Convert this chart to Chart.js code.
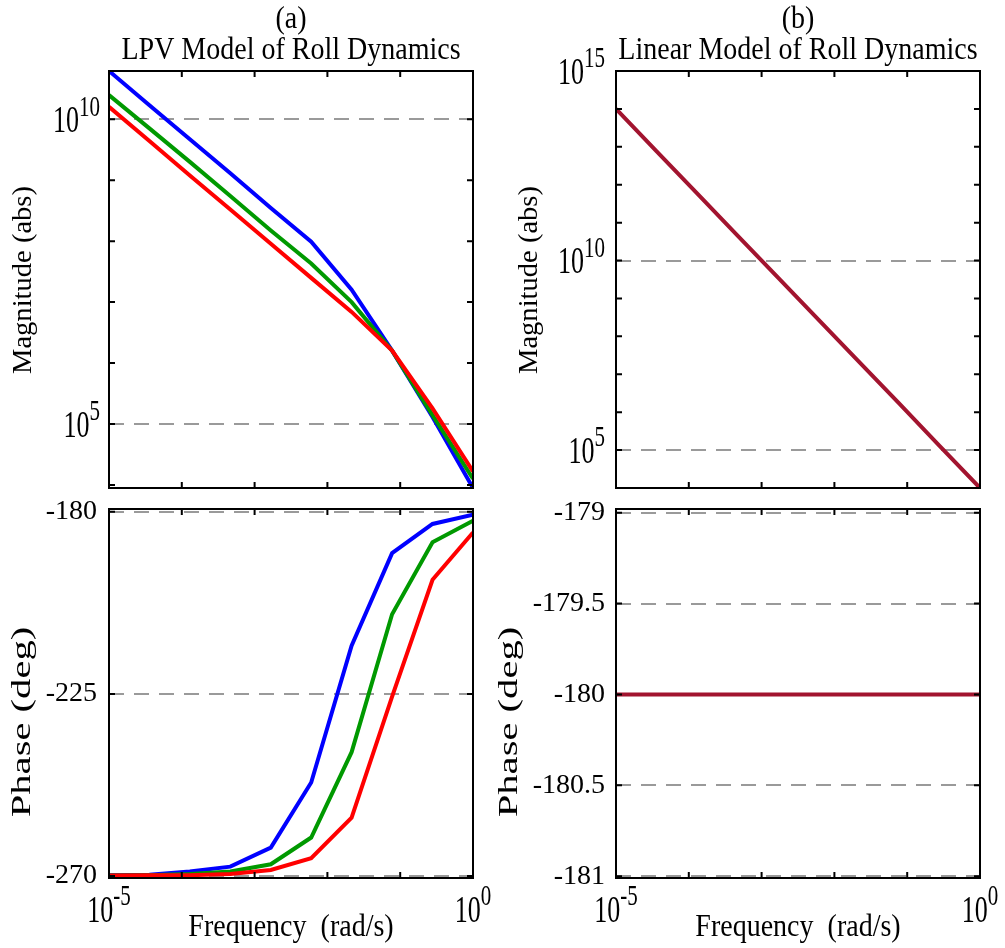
<!DOCTYPE html>
<html>
<head>
<meta charset="utf-8">
<script src="https://cdn.jsdelivr.net/npm/chart.js@4.4.1/dist/chart.umd.min.js"></script>
<style>
  body { margin: 0; background: #fff; }
  #wrap { position: relative; width: 1005px; height: 948px; }
  canvas { position: absolute; }
</style>
</head>
<body>
<div id="wrap">
  <canvas id="magA" width="500" height="490" style="left:0;top:0"></canvas>
  <canvas id="phaseA" width="500" height="458" style="left:0;top:490px"></canvas>
  <canvas id="magB" width="515" height="490" style="left:490px;top:0"></canvas>
  <canvas id="phaseB" width="515" height="458" style="left:490px;top:490px"></canvas>
</div>
<script>
// frequency grid (rad/s)
const freq = [1.0e-5, 3.59e-5, 1.29e-4, 4.64e-4, 1.67e-3, 5.99e-3, 2.15e-2, 7.74e-2, 2.78e-1, 1.0];

// (a) LPV model, three operating points
const magBlue  = [6.2e10, 1.7e10, 4.7e9, 1.3e9, 3.5e8, 9.8e7, 1.6e7, 1.6e6, 1.3e5, 8.9e3];
const magGreen = [2.5e10, 7.1e9, 2.0e9, 5.5e8, 1.5e8, 4.3e7, 1.0e7, 1.6e6, 1.4e5, 1.26e4];
const magRed   = [1.6e10, 4.4e9, 1.2e9, 3.3e8, 9.1e7, 2.5e7, 6.9e6, 1.6e6, 1.8e5, 1.66e4];
const phaseBlue  = [-269.8, -269.7, -268.9, -267.7, -263.0, -246.9, -213.1, -190.2, -183.0, -180.7];
const phaseGreen = [-269.9, -269.8, -269.5, -268.9, -267.1, -260.5, -239.4, -205.3, -187.5, -182.2];
const phaseRed   = [-269.9, -269.8, -269.8, -269.5, -268.5, -265.6, -255.6, -225.7, -196.8, -185.1];

// (b) linear model
const magLinear   = [1.0e14, 7.7e12, 6.0e11, 4.6e10, 3.6e9, 2.8e8, 2.2e7, 1.7e6, 1.3e5, 1.0e4];
const phaseLinear = [-180, -180, -180, -180, -180, -180, -180, -180, -180, -180];

// ticks
const freqTicks = [1e-5, 1e-4, 1e-3, 1e-2, 1e-1, 1];
const freqLabelled = [1e-5, 1];
const magTicksA = [1e4, 1e5, 1e6, 1e7, 1e8, 1e9, 1e10];
const magLabelledA = [1e5, 1e10];
const magTicksB = [1e5, 1e6, 1e7, 1e8, 1e9, 1e10, 1e11, 1e12, 1e13, 1e14, 1e15];
const magLabelledB = [1e5, 1e10, 1e15];
const phaseTicksA = [-270, -225, -180];
const phaseTicksB = [-181, -180.5, -180, -179.5, -179];

const FAMILY = '"Liberation Serif", "Times New Roman", serif';
Chart.defaults.font.family = FAMILY;
Chart.defaults.font.size = 28;
Chart.defaults.color = '#000';
const font = { family: FAMILY, size: 28 };

function isIn(list, v) {
  return list.some(x => Math.abs(x - v) <= Math.abs(x) * 1e-6);
}

// text squeezed/stretched like the original export
function stretchText(ctx, text, x, y, size, sx, sy, align, rot) {
  ctx.save();
  ctx.translate(x, y);
  if (rot) ctx.rotate(rot);
  ctx.scale(sx, sy);
  ctx.font = size + 'px ' + FAMILY;
  ctx.textAlign = align;
  ctx.textBaseline = 'middle';
  ctx.fillText(text, 0, 0);
  ctx.restore();
}

// 10^n label, y = middle of the base digits
function drawPow(ctx, v, x, y, align) {
  const exp = String(Math.round(Math.log10(v)));
  const sy = 1.45;
  ctx.save();
  ctx.font = '26px ' + FAMILY;
  const wb = ctx.measureText('10').width;
  ctx.font = '21px ' + FAMILY;
  const we = ctx.measureText(exp).width;
  const total = wb + we;
  const x0 = align === 'right' ? x - total : x - total / 2;
  ctx.textAlign = 'left';
  ctx.textBaseline = 'alphabetic';
  ctx.translate(0, y);
  ctx.scale(1, sy);
  ctx.font = '26px ' + FAMILY;
  ctx.fillText('10', x0, 8.8);
  ctx.font = '21px ' + FAMILY;
  ctx.fillText(exp, x0 + wb, -2.5);
  ctx.restore();
}

// box, inward tick marks, headings and axis texts
const framePlugin = {
  id: 'frame',
  afterDraw(chart, args, opts) {
    const { ctx, chartArea: a, scales } = chart;
    ctx.save();
    ctx.strokeStyle = '#000';
    ctx.lineWidth = 2;
    ctx.beginPath();
    scales.x.ticks.forEach(t => {
      const px = scales.x.getPixelForValue(t.value);
      ctx.moveTo(px, a.top); ctx.lineTo(px, a.top + 6);
      ctx.moveTo(px, a.bottom); ctx.lineTo(px, a.bottom - 6);
    });
    scales.y.ticks.forEach(t => {
      const py = scales.y.getPixelForValue(t.value);
      ctx.moveTo(a.left, py); ctx.lineTo(a.left + 6, py);
      ctx.moveTo(a.right, py); ctx.lineTo(a.right - 6, py);
    });
    ctx.stroke();
    ctx.strokeRect(a.left, a.top, a.right - a.left, a.bottom - a.top);

    ctx.fillStyle = '#000';
    const cx = (a.left + a.right) / 2;
    if (opts.heading) {
      stretchText(ctx, opts.tag, cx, 20, 28, 1, 1.15, 'center');
      stretchText(ctx, opts.heading, cx, 51, 28, 1, 1.15, 'center');
    }
    // y axis title
    stretchText(ctx, opts.yTitle, opts.yTitleX, opts.yTitleY, 28, opts.yStretch, 1, 'center', -Math.PI / 2);
    // log labels on y
    if (opts.powY) {
      opts.powY.forEach(v => drawPow(ctx, v, a.left - opts.labelPad, scales.y.getPixelForValue(v), 'right'));
    }
    // frequency axis
    if (opts.freqAxis) {
      freqLabelled.forEach(v => drawPow(ctx, v, scales.x.getPixelForValue(v), a.bottom + 31, 'center'));
      stretchText(ctx, 'Frequency  (rad/s)', cx, a.bottom + 50, 28, 1, 1.15, 'center');
    }
    ctx.restore();
  }
};

function lineSet(values, color) {
  return {
    data: freq.map((f, i) => ({ x: f, y: values[i] })),
    borderColor: color,
    borderWidth: 4,
    pointRadius: 0,
    tension: 0,
    fill: false
  };
}

function makeChart(id, cfg) {
  return new Chart(document.getElementById(id), {
    type: 'line',
    data: { datasets: cfg.datasets },
    plugins: [framePlugin],
    options: {
      responsive: false,
      animation: false,
      devicePixelRatio: 1,
      layout: { padding: cfg.padding },
      plugins: {
        legend: { display: false },
        tooltip: { enabled: false },
        frame: cfg.frame
      },
      scales: {
        x: {
          type: 'logarithmic',
          min: 1e-5,
          max: 1,
          afterBuildTicks: s => { s.ticks = freqTicks.map(v => ({ value: v })); },
          ticks: { display: false },
          grid: { display: false, drawTicks: false },
          border: { display: false },
          afterFit: s => {
            s.height = cfg.xHeight;
            s.paddingLeft = 0; s.paddingRight = 0;
          }
        },
        y: {
          type: cfg.yType,
          min: cfg.yMin,
          max: cfg.yMax,
          afterBuildTicks: s => { s.ticks = cfg.yTicks.map(v => ({ value: v })); },
          ticks: {
            display: cfg.yType === 'linear',
            autoSkip: false,
            padding: cfg.frame.labelPad,
            font: font,
            callback: v => (isIn(cfg.yLabelled, v) ? String(v) : '')
          },
          grid: {
            drawTicks: false,
            lineWidth: 2,
            color: c => (c.tick && isIn(cfg.yLabelled, c.tick.value) ? '#9a9a9a' : 'rgba(0,0,0,0)')
          },
          border: { display: false, dash: [15, 10] },
          afterFit: s => {
            s.width = cfg.yWidth;
            s.paddingTop = 0; s.paddingBottom = 0;
          }
        }
      }
    }
  });
}

makeChart('magA', {
  datasets: [lineSet(magRed, '#ff0000'), lineSet(magGreen, '#009900'), lineSet(magBlue, '#0000ff')],
  padding: { left: 0, right: 27, top: 71, bottom: 2 },
  xHeight: 0,
  yType: 'logarithmic', yMin: 8.9e3, yMax: 6.2e10,
  yTicks: magTicksA, yLabelled: magLabelledA, yWidth: 109,
  frame: { tag: '(a)', heading: 'LPV Model of Roll Dynamics', yTitle: 'Magnitude (abs)',
           yTitleX: 24, yTitleY: 280, yStretch: 1.02, powY: magLabelledA, labelPad: 9 }
});

makeChart('phaseA', {
  datasets: [lineSet(phaseRed, '#ff0000'), lineSet(phaseGreen, '#009900'), lineSet(phaseBlue, '#0000ff')],
  padding: { left: 0, right: 27, top: 19, bottom: 0 },
  xHeight: 70,
  yType: 'linear', yMin: -270.5, yMax: -179.3,
  yTicks: phaseTicksA, yLabelled: phaseTicksA, yWidth: 109,
  frame: { yTitle: 'Phase (deg)', yTitleX: 23, yTitleY: 232, yStretch: 1.45, labelPad: 12, freqAxis: true }
});

makeChart('magB', {
  datasets: [lineSet(magLinear, '#a2142f')],
  padding: { left: 0, right: 25, top: 71, bottom: 2 },
  xHeight: 0,
  yType: 'logarithmic', yMin: 1e4, yMax: 1e15,
  yTicks: magTicksB, yLabelled: magLabelledB, yWidth: 126,
  frame: { tag: '(b)', heading: 'Linear Model of Roll Dynamics', yTitle: 'Magnitude (abs)',
           yTitleX: 40, yTitleY: 280, yStretch: 1.02, powY: magLabelledB, labelPad: 11 }
});

makeChart('phaseB', {
  datasets: [lineSet(phaseLinear, '#a2142f')],
  padding: { left: 0, right: 25, top: 19, bottom: 0 },
  xHeight: 70,
  yType: 'linear', yMin: -181.01, yMax: -178.98,
  yTicks: phaseTicksB, yLabelled: phaseTicksB, yWidth: 126,
  frame: { yTitle: 'Phase (deg)', yTitleX: 20, yTitleY: 232, yStretch: 1.45, labelPad: 11, freqAxis: true }
});
</script>
</body>
</html>
